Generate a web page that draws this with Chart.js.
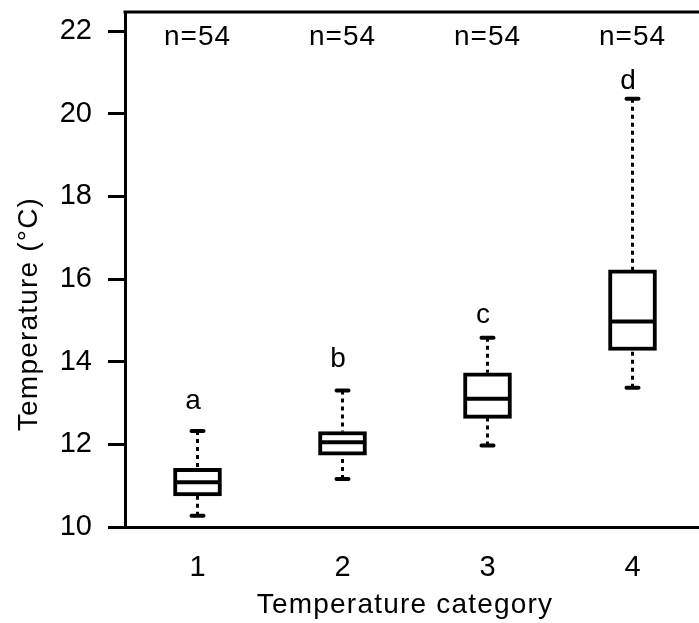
<!DOCTYPE html>
<html>
<head>
<meta charset="utf-8">
<script src="https://cdn.jsdelivr.net/npm/chart.js@4.4.1/dist/chart.umd.min.js"></script>
<style>
  html, body { margin: 0; padding: 0; background: #fff; overflow: hidden; }
  #wrap { width: 710px; height: 623px; }
</style>
</head>
<body>
<div id="wrap"><canvas id="chart"></canvas></div>
<script>
// box plot summary per temperature category
const categories = ['1', '2', '3', '4'];
const whiskerLow = [10.27, 11.16, 11.97, 13.37];
const q1 = [10.75, 11.74, 12.63, 14.27];
const medians = [11.08, 12.05, 13.10, 14.97];
const q3 = [11.42, 12.31, 13.73, 16.22];
const whiskerHigh = [12.32, 13.30, 14.58, 20.36];
const groupLetters = ['a', 'b', 'c', 'd'];
const letterAt = [12.85, 13.88, 14.94, 20.60];
const sampleSizes = [54, 54, 54, 54];
const nLabelAt = 21.65;
const yTicks = [10, 12, 14, 16, 18, 20, 22];

const FONT = "'Liberation Sans', Arial, sans-serif";
const BOX_W = 48;

const boxExtras = {
    id: 'boxExtras',
    beforeDatasetsDraw(chart) {
        const ctx = chart.ctx;
        const xs = chart.scales.x, ys = chart.scales.y;
        ctx.save();
        ctx.strokeStyle = '#000';
        for (let i = 0; i < categories.length; i++) {
            const x = xs.getPixelForValue(i);
            // dotted whiskers
            ctx.lineWidth = 3;
            ctx.setLineDash([4, 4]);
            ctx.lineCap = 'butt';
            ctx.beginPath();
            ctx.moveTo(x, ys.getPixelForValue(whiskerHigh[i]));
            ctx.lineTo(x, ys.getPixelForValue(q3[i]));
            ctx.moveTo(x, ys.getPixelForValue(whiskerLow[i]));
            ctx.lineTo(x, ys.getPixelForValue(q1[i]));
            ctx.stroke();
            // caps
            ctx.setLineDash([]);
            ctx.lineWidth = 4;
            ctx.lineCap = 'round';
            ctx.beginPath();
            for (const v of [whiskerHigh[i], whiskerLow[i]]) {
                const y = ys.getPixelForValue(v);
                ctx.moveTo(x - 6, y);
                ctx.lineTo(x + 6, y);
            }
            ctx.stroke();
        }
        ctx.restore();
    },
    afterDatasetsDraw(chart) {
        const ctx = chart.ctx;
        const xs = chart.scales.x, ys = chart.scales.y;
        ctx.save();
        ctx.strokeStyle = '#000';
        ctx.lineWidth = 4;
        for (let i = 0; i < categories.length; i++) {
            const x = xs.getPixelForValue(i);
            const y = ys.getPixelForValue(medians[i]);
            ctx.beginPath();
            ctx.moveTo(x - BOX_W / 2 + 2, y);
            ctx.lineTo(x + BOX_W / 2 - 2, y);
            ctx.stroke();
        }
        ctx.restore();
    },
    afterDraw(chart) {
        const ctx = chart.ctx;
        const xs = chart.scales.x, ys = chart.scales.y;
        const area = chart.chartArea;
        ctx.save();
        // top of the frame
        ctx.strokeStyle = '#000';
        ctx.lineWidth = 3;
        ctx.beginPath();
        ctx.moveTo(area.left - 1.5, area.top);
        ctx.lineTo(area.right, area.top);
        ctx.stroke();

        ctx.fillStyle = '#000';
        ctx.textAlign = 'center';
        ctx.textBaseline = 'alphabetic';
        ctx.letterSpacing = '1px';
        ctx.font = '28px ' + FONT;
        for (let i = 0; i < categories.length; i++) {
            const x = xs.getPixelForValue(i);
            ctx.fillText('n=' + sampleSizes[i], x, ys.getPixelForValue(nLabelAt));
            ctx.fillText(groupLetters[i], x - 4, ys.getPixelForValue(letterAt[i]));
        }

        // axis titles
        ctx.letterSpacing = '1.2px';
        ctx.textBaseline = 'middle';
        ctx.fillText('Temperature category', 405, 605);
        ctx.translate(29, 314);
        ctx.rotate(-Math.PI / 2);
        ctx.fillText('Temperature (°C)', 0, 0);
        ctx.restore();
    }
};

new Chart(document.getElementById('chart'), {
    type: 'bar',
    data: {
        labels: categories,
        datasets: [{
            data: q1.map((v, i) => [v, q3[i]]),
            backgroundColor: '#fff',
            borderColor: '#000',
            borderWidth: 4,
            borderSkipped: false,
            barThickness: BOX_W
        }]
    },
    options: {
        responsive: true,
        maintainAspectRatio: false,
        animation: false,
        layout: { padding: { top: 12, right: 5, left: 0, bottom: 0 } },
        plugins: {
            legend: { display: false },
            tooltip: { enabled: false }
        },
        scales: {
            x: {
                offset: true,
                grid: { display: true, drawOnChartArea: false, drawTicks: false },
                border: { display: true, color: '#000', width: 3 },
                ticks: { color: '#000', padding: 24, font: { family: FONT, size: 29 } },
                afterFit: s => { s.height = 96; s.paddingLeft = 0; s.paddingRight = 0; }
            },
            y: {
                min: 10,
                max: 22.46,
                grid: { drawOnChartArea: false, drawTicks: true, tickLength: 17, color: '#000', lineWidth: 3 },
                border: { display: true, color: '#000', width: 3 },
                ticks: { color: '#000', padding: 16, font: { family: FONT, size: 29 } },
                afterBuildTicks: s => { s.ticks = yTicks.map(v => ({ value: v })); },
                afterFit: s => { s.width = 125; s.paddingTop = 0; s.paddingBottom = 0; }
            }
        }
    },
    plugins: [boxExtras]
});
</script>
</body>
</html>
